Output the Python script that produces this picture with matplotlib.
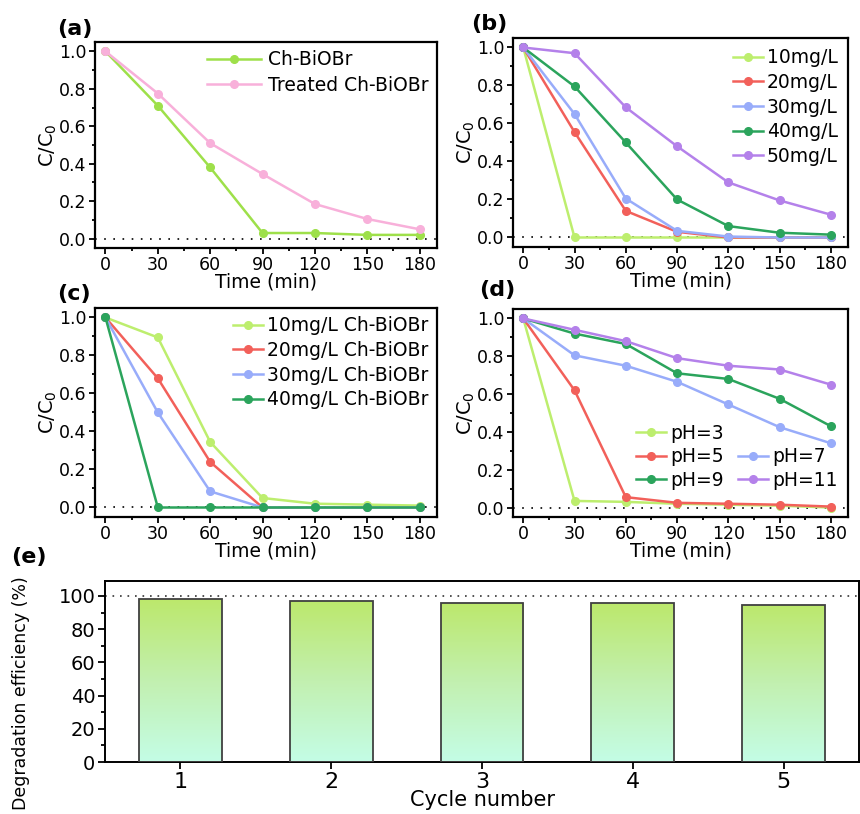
import numpy as np
import matplotlib
matplotlib.use("Agg")
import matplotlib.pyplot as plt
from matplotlib.lines import Line2D
from matplotlib.colors import LinearSegmentedColormap

plt.rcParams['font.family'] = ['DejaVu Sans']

time = [0, 30, 60, 90, 120, 150, 180]

# (a)
a_labels = ["Ch-BiOBr", "Treated Ch-BiOBr"]
a_ch = [1.0, 0.71, 0.38, 0.03, 0.03, 0.02, 0.02]
a_treated = [1.0, 0.775, 0.51, 0.345, 0.185, 0.105, 0.05]

# (b)
b_labels = ["10mg/L", "20mg/L", "30mg/L", "40mg/L", "50mg/L"]
b_10 = [1.0, 0.0, 0.0, 0.0, 0.0, 0.0, 0.0]
b_20 = [1.0, 0.555, 0.14, 0.03, 0.0, 0.0, 0.0]
b_30 = [1.0, 0.65, 0.205, 0.035, 0.005, 0.0, 0.0]
b_40 = [1.0, 0.795, 0.50, 0.20, 0.06, 0.025, 0.015]
b_50 = [1.0, 0.97, 0.685, 0.48, 0.29, 0.195, 0.12]

# (c)
c_labels = ["10mg/L Ch-BiOBr", "20mg/L Ch-BiOBr", "30mg/L Ch-BiOBr", "40mg/L Ch-BiOBr"]
c_10 = [1.0, 0.895, 0.345, 0.05, 0.02, 0.015, 0.01]
c_20 = [1.0, 0.68, 0.24, 0.0, 0.0, 0.0, 0.0]
c_30 = [1.0, 0.50, 0.085, 0.0, 0.0, 0.0, 0.0]
c_40 = [1.0, 0.0, 0.0, 0.0, 0.0, 0.0, 0.0]

# (d)
d_labels = ["pH=3", "pH=5", "pH=7", "pH=9", "pH=11"]
d_3 = [1.0, 0.035, 0.03, 0.02, 0.015, 0.01, 0.0]
d_5 = [1.0, 0.62, 0.055, 0.025, 0.02, 0.015, 0.005]
d_7 = [1.0, 0.805, 0.75, 0.665, 0.545, 0.425, 0.34]
d_9 = [1.0, 0.92, 0.865, 0.71, 0.68, 0.575, 0.43]
d_11 = [1.0, 0.94, 0.88, 0.79, 0.75, 0.73, 0.65]

# (e)
cycles = [1, 2, 3, 4, 5]
efficiency = [98.0, 97.0, 96.0, 95.5, 94.7]

lgreen = "#bdee6e"
red = "#f2605a"
blue = "#98acfa"
green = "#2ba45c"
purple = "#b481ea"
agreen = "#9ee04a"
pink = "#f8b0da"

W, H = 860, 814
fig = plt.figure(figsize=(W / 100, H / 100), dpi=100)

TICK = 12.5
LEG = 13.5


def px_axes(l, t, r, b):
    return fig.add_axes([l / W, 1 - b / H, (r - l) / W, (b - t) / H])


def style_time(ax):
    ax.set_xlim(-6, 190)
    ax.set_ylim(-0.05, 1.05)
    ax.set_xticks(time)
    ax.set_xticks([15, 45, 75, 105, 135, 165], minor=True)
    ax.set_yticks([0, 0.2, 0.4, 0.6, 0.8, 1.0])
    ax.set_yticks([0.1, 0.3, 0.5, 0.7, 0.9], minor=True)
    ax.yaxis.set_major_formatter(plt.FormatStrFormatter('%.1f'))
    ax.tick_params(which='both', direction='out', width=1.3, labelsize=TICK, pad=2)
    ax.tick_params(which='major', length=4)
    ax.tick_params(which='minor', length=2.5)
    for s in ax.spines.values():
        s.set_linewidth(1.6)
    ax.axhline(0, color='black', ls=(0, (1, 4.5)), lw=1.2, zorder=1)
    ax.set_xlabel("Time (min)", fontsize=13.5, labelpad=-1)
    ax.set_ylabel("C/C$_0$", fontsize=14, labelpad=0)


def line(ax, y, c, lab):
    ax.plot(time, y, '-o', color=c, lw=1.8, ms=5.5, mfc=c, mec=c, label=lab, zorder=3)


def legend(ax, **kw):
    opts = dict(frameon=False, fontsize=LEG, handlelength=1.6, borderaxespad=0.15,
                labelspacing=0.3, handletextpad=0.2)
    opts.update(kw)
    return ax.legend(**opts)


# (a)
ax = px_axes(95, 42, 437, 248)
line(ax, a_ch, agreen, a_labels[0])
line(ax, a_treated, pink, a_labels[1])
style_time(ax)
legend(ax, loc='upper right', handlelength=2.9, handletextpad=0.35, borderaxespad=0.05,
       labelspacing=0.35)
fig.text(57 / W, 1 - 29 / H, "(a)", fontsize=16, fontweight='bold', va='center')

# (b)
ax = px_axes(513, 38, 848, 247)
for y, c, lab in zip([b_10, b_20, b_30, b_40, b_50], [lgreen, red, blue, green, purple], b_labels):
    line(ax, y, c, lab)
style_time(ax)
legend(ax, loc='upper right')
fig.text(471 / W, 1 - 24 / H, "(b)", fontsize=16, fontweight='bold', va='center')

# (c)
ax = px_axes(95, 308, 437, 517)
for y, c, lab in zip([c_10, c_20, c_30, c_40], [lgreen, red, blue, green], c_labels):
    line(ax, y, c, lab)
style_time(ax)
legend(ax, loc='upper right', borderaxespad=0.05)
fig.text(57 / W, 1 - 294 / H, "(c)", fontsize=16, fontweight='bold', va='center')

# (d)
ax = px_axes(513, 309, 848, 517)
for y, c, lab in zip([d_3, d_5, d_7, d_9, d_11], [lgreen, red, blue, green, purple], d_labels):
    line(ax, y, c, lab)
style_time(ax)
handles, labels = ax.get_legend_handles_labels()
blank = Line2D([], [], color='none')
order_h = [handles[0], handles[1], handles[3], blank, handles[2], handles[4]]
order_l = [labels[0], labels[1], labels[3], "", labels[2], labels[4]]
ax.legend(order_h, order_l, ncol=2, loc='lower right', frameon=False, fontsize=LEG,
          handlelength=1.6, bbox_to_anchor=(1.0, 0.08), borderaxespad=0.15,
          labelspacing=0.25, handletextpad=0.2, columnspacing=0.8)
fig.text(479 / W, 1 - 290 / H, "(d)", fontsize=16, fontweight='bold', va='center')

# (e)
ax = px_axes(105, 581, 859, 762)
cmap = LinearSegmentedColormap.from_list("g", ["#c4fde6", "#c2f0b0", "#bce86c"])
grad = np.linspace(0, 1, 256).reshape(-1, 1)
bars = ax.bar(cycles, efficiency, width=0.55, facecolor='none', edgecolor='#404040',
              lw=1.3, zorder=3)
for b in bars:
    x0, y0 = b.get_x(), b.get_y()
    im = ax.imshow(grad, cmap=cmap, origin='lower', aspect='auto',
                   extent=[x0, x0 + b.get_width(), y0, y0 + b.get_height()], zorder=2)
    im.set_clip_path(b)
ax.set_xlim(0.5, 5.5)
ax.set_ylim(0, 109)
ax.axhline(100, color='#333333', ls=(0, (1, 3.5)), lw=1.2, zorder=1)
ax.set_xticks(cycles)
ax.set_yticks([0, 20, 40, 60, 80, 100])
ax.set_yticks([10, 30, 50, 70, 90], minor=True)
ax.tick_params(which='both', direction='out', width=1.3, pad=2)
ax.tick_params(axis='y', labelsize=14)
ax.tick_params(axis='x', labelsize=16)
ax.tick_params(which='major', length=5)
ax.tick_params(which='minor', length=3)
for s in ax.spines.values():
    s.set_linewidth(1.4)
ax.set_xlabel("Cycle number", fontsize=15, labelpad=-1)
ax.set_ylabel("Degradation efficiency (%)", fontsize=12.5)
ax.yaxis.set_label_coords(-0.1, 0.38)
fig.text(11 / W, 1 - 557 / H, "(e)", fontsize=16, fontweight='bold', va='center')

fig.savefig("out.png", dpi=100)
